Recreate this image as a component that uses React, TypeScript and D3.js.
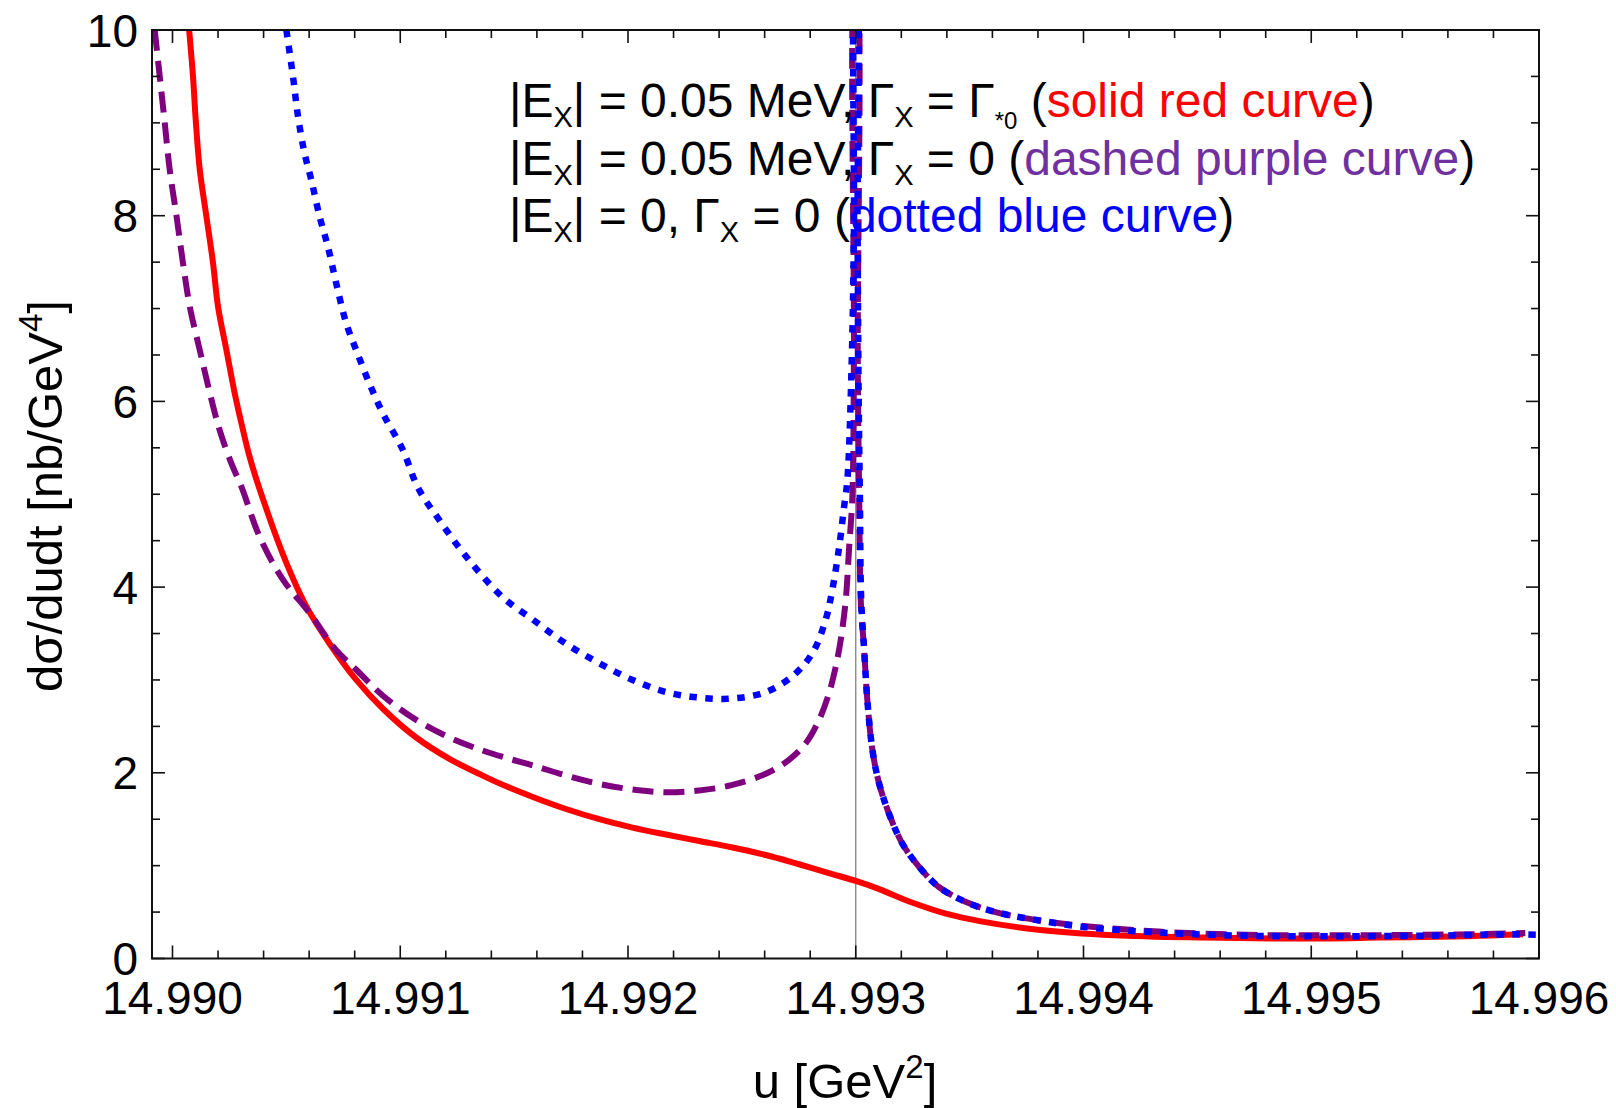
import React from "react";
import * as d3 from "d3";

// ---- data ----
const uRed = [14.990073, 14.99009, 14.990102, 14.99012, 14.990149, 14.990178, 14.9902, 14.990237, 14.990273, 14.990303, 14.990339, 14.99039, 14.9905, 14.990588, 14.99069, 14.990807, 14.990924, 14.99107, 14.991216, 14.991362, 14.99146, 14.991582, 14.991728, 14.991874, 14.99202, 14.992167, 14.992313, 14.992459, 14.992605, 14.992751, 14.992897, 14.993, 14.9931, 14.99325, 14.9934, 14.99355, 14.9938, 14.994135, 14.994523, 14.994911, 14.9953, 14.995688, 14.99593];
const vRed = [10.0, 9.5, 9.03, 8.49, 7.99, 7.49, 7.02, 6.55, 6.09, 5.76, 5.4, 5.0, 4.26, 3.79, 3.39, 3.0, 2.69, 2.38, 2.15, 1.97, 1.86, 1.74, 1.61, 1.5, 1.41, 1.335, 1.265, 1.195, 1.115, 1.015, 0.91, 0.835, 0.75, 0.6, 0.48, 0.4, 0.31, 0.25, 0.225, 0.215, 0.225, 0.24, 0.26];

const uPurple = [14.989922, 14.989944, 14.989966, 14.989988, 14.990018, 14.990046, 14.990076, 14.99012, 14.990164, 14.990207, 14.990259, 14.990303, 14.990383, 14.990485, 14.990602, 14.990719, 14.990807, 14.990924, 14.99107, 14.991216, 14.991362, 14.991479, 14.991582, 14.991728, 14.991874, 14.99202, 14.992167, 14.992313, 14.992459, 14.992605, 14.992707, 14.992781, 14.992839, 14.992883, 14.992912, 14.992934, 14.992956, 14.992971, 14.992985, 14.992992, 14.992998, 14.993003, 14.993009, 14.993015, 14.993022, 14.993037, 14.993051, 14.993073, 14.993102, 14.993146, 14.993204, 14.993277, 14.993365, 14.993482, 14.993614, 14.993806, 14.994, 14.99433, 14.994718, 14.995106, 14.995494, 14.995882, 14.99594];
const vPurple = [10.0, 9.5, 9.0, 8.49, 7.99, 7.49, 7.02, 6.55, 6.09, 5.69, 5.33, 5.08, 4.54, 4.08, 3.72, 3.32, 3.11, 2.83, 2.57, 2.38, 2.24, 2.15, 2.08, 1.97, 1.88, 1.82, 1.79, 1.81, 1.87, 1.99, 2.14, 2.32, 2.57, 2.86, 3.14, 3.43, 3.86, 4.43, 4.97, 6.5, 10.6, 10.6, 6.4, 5.0, 3.86, 3.32, 2.78, 2.25, 1.89, 1.56, 1.24, 0.99, 0.77, 0.61, 0.5, 0.41, 0.35, 0.29, 0.255, 0.25, 0.255, 0.27, 0.275];

const uBlue = [14.9905, 14.990529, 14.990551, 14.99058, 14.99061, 14.990646, 14.990682, 14.990719, 14.990763, 14.990807, 14.990865, 14.990924, 14.991011, 14.991078, 14.991172, 14.991289, 14.99145, 14.991582, 14.991728, 14.991874, 14.99202, 14.992167, 14.992313, 14.992459, 14.992605, 14.992722, 14.99281, 14.992868, 14.992897, 14.992927, 14.992949, 14.992963, 14.992982, 14.992992, 14.992999, 14.993003, 14.993008, 14.993013, 14.993018, 14.993024, 14.993037, 14.993051, 14.993073, 14.993102, 14.993146, 14.993204, 14.993277, 14.993365, 14.993482, 14.993614, 14.993806, 14.994, 14.99433, 14.994718, 14.995106, 14.995494, 14.995882, 14.996];
const vBlue = [10.0, 9.5, 9.07, 8.67, 8.38, 7.99, 7.67, 7.27, 6.84, 6.55, 6.19, 5.87, 5.48, 5.07, 4.72, 4.33, 3.89, 3.65, 3.39, 3.18, 3.0, 2.87, 2.81, 2.8, 2.87, 3.04, 3.29, 3.65, 3.97, 4.43, 4.87, 5.15, 6.41, 7.85, 10.6, 10.6, 7.85, 6.0, 5.0, 3.86, 3.32, 2.78, 2.25, 1.89, 1.56, 1.24, 0.99, 0.77, 0.61, 0.5, 0.41, 0.34, 0.28, 0.245, 0.24, 0.245, 0.26, 0.255];

const xMajorTicks = [14.99, 14.991, 14.992, 14.993, 14.994, 14.995, 14.996];
const yMajorTicks = [0, 2, 4, 6, 8, 10];
const xMarker = 14.993;

type Seg = { t: string; sub?: "x" | "star"; color?: string };
const legendLines: Seg[][] = [
  [
    { t: "|E" }, { t: "X", sub: "x" }, { t: "| = 0.05 MeV, Γ" }, { t: "X", sub: "x" }, { t: " = Γ" }, { t: "*0", sub: "star" },
    { t: " (" }, { t: "solid red curve", color: "#ff0000" }, { t: ")" },
  ],
  [
    { t: "|E" }, { t: "X", sub: "x" }, { t: "| = 0.05 MeV, Γ" }, { t: "X", sub: "x" }, { t: " = 0 (" },
    { t: "dashed purple curve", color: "#7030a0" }, { t: ")" },
  ],
  [
    { t: "|E" }, { t: "X", sub: "x" }, { t: "| = 0, Γ" }, { t: "X", sub: "x" }, { t: " = 0 (" },
    { t: "dotted blue curve", color: "#0000ff" }, { t: ")" },
  ],
];

const W = 1616;
const H = 1108;
const FONT = "'Liberation Sans', Arial, Helvetica, sans-serif";

export default function App() {
  const x = d3.scaleLinear().domain([14.98991, 14.996]).range([152, 1539]);
  const y = d3.scaleLinear().domain([0, 10]).range([958.5, 30]);
  const [x0, x1] = x.range();
  const [y0, y1] = y.range();

  const line = d3
    .line<[number, number]>()
    .x((d) => x(d[0]))
    .y((d) => y(d[1]))
    .curve(d3.curveCatmullRom.alpha(0.5));

  const zip = (u: number[], v: number[]) => u.map((uu, i) => [uu, v[i]] as [number, number]);

  const xMinor = d3.range(0, 31).map((i) => 14.99 + i * 0.0002);
  const yMinor = d3.range(0, 21).map((i) => i * 0.5);
  const isMajorX = (t: number) => xMajorTicks.some((m) => Math.abs(m - t) < 1e-7);
  const isMajorY = (t: number) => yMajorTicks.some((m) => Math.abs(m - t) < 1e-7);

  const fmt = d3.format(".3f");
  const tickStroke = "#111";

  const subInfo = { x: { size: 29, dy: 9.5 }, star: { size: 24, dy: 12 } };

  const renderLine = (segs: Seg[], yy: number, key: number) => {
    let cur = 0;
    return (
      <text key={"lg" + key} x={509} y={yy} fontSize={48} fill="#000">
        {segs.map((s, i) => {
          const target = s.sub ? subInfo[s.sub].dy : 0;
          const dy = target - cur;
          cur = target;
          return (
            <tspan
              key={i}
              dy={dy !== 0 ? dy : undefined}
              fontSize={s.sub ? subInfo[s.sub].size : undefined}
              fill={s.color}
            >
              {s.t}
            </tspan>
          );
        })}
      </text>
    );
  };

  return (
    <svg width={W} height={H} style={{ position: "absolute", left: 0, top: 0, background: "#fff" }} fontFamily={FONT}>
      <rect x={0} y={0} width={W} height={H} fill="#fff" />
      <defs>
        <clipPath id="plotclip">
          <rect x={x0} y={y1} width={x1 - x0} height={y0 - y1} />
        </clipPath>
      </defs>

      {/* vertical marker line */}
      <line x1={x(xMarker)} x2={x(xMarker)} y1={y0} y2={y1} stroke="#808080" strokeWidth={1.3} />

      <g clipPath="url(#plotclip)" fill="none">
        <path d={line(zip(uRed, vRed)) || ""} stroke="#ff0000" strokeWidth={6} />
        <path d={line(zip(uPurple, vPurple)) || ""} stroke="#7f007f" strokeWidth={6} strokeDasharray="21 10" />
        <path d={line(zip(uBlue, vBlue)) || ""} stroke="#0000ff" strokeWidth={6.5} strokeDasharray="7.5 8.5" />
      </g>

      {/* frame */}
      <rect x={x0} y={y1} width={x1 - x0} height={y0 - y1} fill="none" stroke={tickStroke} strokeWidth={2} />

      {/* x ticks bottom and top */}
      {xMinor.map((t, i) => {
        const L = isMajorX(t) ? 13 : 8;
        const px = x(t);
        return (
          <g key={"xt" + i}>
            <line x1={px} x2={px} y1={y0} y2={y0 - L} stroke={tickStroke} strokeWidth={1.6} />
            <line x1={px} x2={px} y1={y1} y2={y1 + L} stroke={tickStroke} strokeWidth={1.6} />
          </g>
        );
      })}
      {/* y ticks left and right */}
      {yMinor.map((t, i) => {
        const L = isMajorY(t) ? 13 : 8;
        const py = y(t);
        return (
          <g key={"yt" + i}>
            <line x1={x0} x2={x0 + L} y1={py} y2={py} stroke={tickStroke} strokeWidth={1.6} />
            <line x1={x1} x2={x1 - L} y1={py} y2={py} stroke={tickStroke} strokeWidth={1.6} />
          </g>
        );
      })}

      {/* tick labels */}
      {xMajorTicks.map((t) => (
        <text key={"xl" + t} x={x(t)} y={1014} textAnchor="middle" fontSize={46} fill="#000">
          {fmt(t)}
        </text>
      ))}
      {yMajorTicks.map((t) => (
        <text key={"yl" + t} x={138} y={y(t) + 16.5} textAnchor="end" fontSize={46} fill="#000">
          {t}
        </text>
      ))}

      {/* axis labels */}
      <text x={845} y={1098} textAnchor="middle" fontSize={49} fill="#000">
        u [GeV<tspan dy={-20} fontSize={33}>2</tspan><tspan dy={20}>]</tspan>
      </text>
      <text transform="translate(62,496) rotate(-90)" textAnchor="middle" fontSize={49} fill="#000">
        dσ/dudt [nb/GeV<tspan dy={-20} fontSize={33}>4</tspan><tspan dy={20}>]</tspan>
      </text>

      {/* legend */}
      {legendLines.map((segs, i) => renderLine(segs, [117, 175, 232][i], i))}
    </svg>
  );
}
